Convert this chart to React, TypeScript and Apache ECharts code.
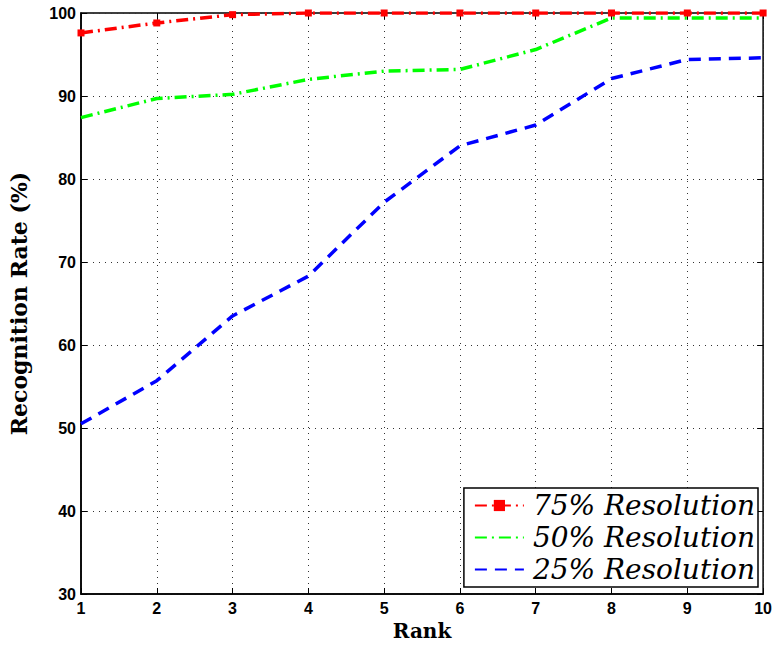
import React, { useEffect, useRef } from "react";
import * as echarts from "echarts";

const ranks = [1, 2, 3, 4, 5, 6, 7, 8, 9, 10];
const res75 = [97.6, 98.8, 99.8, 100, 100, 100, 100, 100, 100, 100];
const res50 = [87.4, 89.7, 90.2, 92.0, 93.0, 93.2, 95.6, 99.4, 99.4, 99.4];
const res25 = [50.5, 55.7, 63.5, 68.3, 77.2, 84.0, 86.5, 92.1, 94.4, 94.6];
const seriesNames = ["75% Resolution", "50% Resolution", "25% Resolution"];

export default function App() {
  const ref = useRef<HTMLDivElement>(null);
  useEffect(() => {
    if (!ref.current) return;
    const chart = echarts.init(ref.current, undefined, { renderer: "svg" });
    const tickLabel = { color: "#000", fontWeight: "bold", fontFamily: "Liberation Sans", fontSize: 16 };
    const grid = { lineStyle: { color: "#333", type: [1, 5], width: 1 } };
    const pair = (arr: number[]) => ranks.map((r, i) => [r, arr[i]]);
    chart.setOption({
      animation: false,
      backgroundColor: "#fff",
      grid: { left: 76, right: 8, top: 13, bottom: 50, show: true, borderColor: "#000", borderWidth: 1.5 },
      xAxis: [
        {
          type: "value", min: 1, max: 10, interval: 1,
          name: "Rank", nameLocation: "middle", nameGap: 27,
          nameTextStyle: { color: "#000", fontWeight: "bold", fontFamily: "DejaVu Serif", fontSize: 20 },
          axisLine: { lineStyle: { color: "#000", width: 1.5 } },
          axisTick: { inside: true, length: 6, lineStyle: { color: "#000" } },
          axisLabel: { ...tickLabel, margin: 6 },
          splitLine: { show: true, ...grid },
        },
        {
          type: "value", min: 1, max: 10, interval: 1, position: "top",
          axisLine: { show: false }, axisLabel: { show: false },
          axisTick: { inside: true, length: 6, lineStyle: { color: "#000" } },
          splitLine: { show: false },
        },
      ],
      yAxis: [
        {
          type: "value", min: 30, max: 100, interval: 10,
          name: "Recognition Rate (%)", nameLocation: "middle", nameGap: 51,
          nameTextStyle: { color: "#000", fontWeight: "bold", fontFamily: "DejaVu Serif", fontSize: 22 },
          axisLine: { show: true, lineStyle: { color: "#000", width: 1.5 } },
          axisTick: { show: true, inside: true, length: 6, lineStyle: { color: "#000" } },
          axisLabel: { ...tickLabel, margin: 5 },
          splitLine: { show: true, ...grid },
        },
        {
          type: "value", min: 30, max: 100, interval: 10, position: "right",
          axisLine: { show: false }, axisLabel: { show: false },
          axisTick: { show: true, inside: true, length: 6, lineStyle: { color: "#000" } },
          splitLine: { show: false },
        },
      ],
      legend: {
        orient: "vertical", right: 17, bottom: 59,
        backgroundColor: "#fff", borderColor: "#000", borderWidth: 1.5,
        padding: [2, 3, 2, 10], itemGap: 1, itemWidth: 49, itemHeight: 14,
        textStyle: {
          fontFamily: "DejaVu Serif", fontStyle: "italic", fontSize: 28,
          lineHeight: 31, color: "#000", padding: [0, 0, 0, 4],
        },
        data: [
          { name: seriesNames[0] },
          { name: seriesNames[1], itemStyle: { opacity: 0 } },
          { name: seriesNames[2], itemStyle: { opacity: 0 } },
        ],
      },
      series: [
        {
          name: seriesNames[0], type: "line", data: pair(res75),
          symbol: "rect", symbolSize: 7, showSymbol: true,
          itemStyle: { color: "#ff0000" },
          lineStyle: { color: "#ff0000", width: 3.5, type: [12, 5, 2, 5] },
          z: 4,
        },
        {
          name: seriesNames[1], type: "line", data: pair(res50),
          symbol: "none",
          itemStyle: { color: "#00ff00" },
          lineStyle: { color: "#00ff00", width: 3.5, type: [12, 5, 2, 5] },
          z: 3,
        },
        {
          name: seriesNames[2], type: "line", data: pair(res25),
          symbol: "none",
          itemStyle: { color: "#0000ff" },
          lineStyle: { color: "#0000ff", width: 3.5, type: [12, 8] },
          z: 2,
        },
      ],
    });
    return () => chart.dispose();
  }, []);
  return <div ref={ref} style={{ position: "absolute", left: 0, top: 0, width: 775, height: 646 }} />;
}
